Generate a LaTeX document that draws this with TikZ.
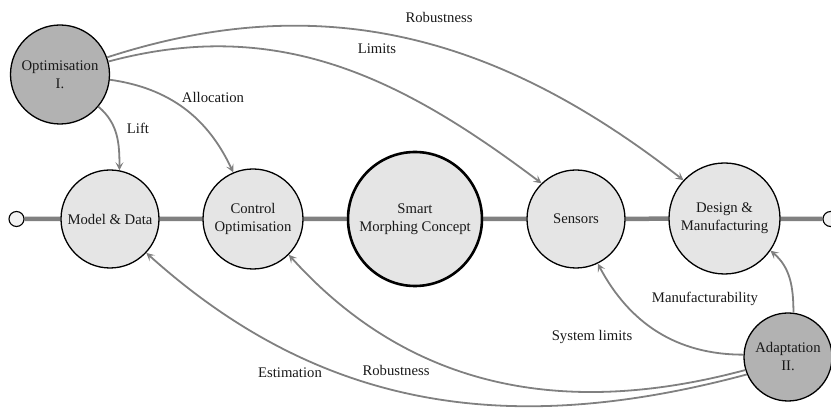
\documentclass[tikz,border=0pt]{standalone}
\usepackage{fontspec}
\setmainfont{Liberation Serif}
\usetikzlibrary{arrows.meta,backgrounds}
\begin{document}
\begin{tikzpicture}[x=1pt,y=1pt,
  every node/.style={font=\fontsize{14.7}{18}\selectfont,text=black!90},
  stage/.style={circle,draw=black,line width=1.3pt,fill=gray!20,align=center,inner sep=0pt},
  hub/.style={stage,line width=2.6pt},
  actor/.style={stage,fill=gray!60},
  endpt/.style={circle,draw=black,line width=1.1pt,fill=gray!10,minimum size=15pt,inner sep=0pt},
  mainline/.style={gray,line width=4.5pt},
  link/.style={draw=gray,line width=1.8pt,-{Stealth[length=8pt,width=8pt,inset=3.5pt]}},
  lbl/.style={inner sep=0pt}
]
\useasboundingbox (0,0) rectangle (831,412);
\node[endpt] (lend) at (16.5,193) {};
\node[endpt] (rend) at (830.5,193) {};
\node[stage,minimum size=98pt] (model) at (110,193) {Model \& Data};
\node[stage,minimum size=100pt] (control) at (253,193) {Control\\Optimisation};
\node[hub,minimum size=134pt] (smart) at (415,193) {Smart\\Morphing Concept};
\node[stage,minimum size=98pt] (sensors) at (576,193) {Sensors};
\node[stage,minimum size=111pt] (design) at (724.5,193.5) {Design \&\\Manufacturing};
\node[actor,minimum size=99pt] (opt) at (60,337.5) {Optimisation\\I.};
\node[actor,minimum size=88pt] (adapt) at (788,55) {Adaptation\\II.};

\begin{scope}[on background layer]
\draw[mainline] (lend) -- (model) (model) -- (control) (control) -- (smart)
  (smart) -- (sensors) (sensors) -- (design) (design) -- (rend);
\end{scope}

\draw[link] (opt.-40) to[out=-40,in=90] (model.79);
\draw[link] (opt.-6) to[out=-8,in=115] (control.113);
\draw[link] (opt.15) to[out=15,in=143] (sensors.134);
\draw[link] (opt.20) to[out=18,in=142] (design.137.5);
\draw[link] (adapt.83) to[out=90,in=-40] (design.-35);
\draw[link] (adapt.177) to[out=180,in=-62] (sensors.-64);
\draw[link] (adapt.197) to[out=195,in=-48] (control.-45);
\draw[link] (adapt.203) to[out=195,in=-42] (model.-43);

\node[lbl] (l1) at (439,395) {Robustness};
\node[lbl] (l2) at (377,363) {Limits};
\node[lbl] (l3) at (213,315) {Allocation};
\node[lbl] (l4) at (138,284) {Lift};
\node[lbl] (l5) at (705,113) {Manufacturability};
\node[lbl] (l6) at (592,75) {System limits};
\node[lbl] (l7) at (290,39) {Estimation};
\node[lbl] (l8) at (396,42) {Robustness};
\end{tikzpicture}
\end{document}
